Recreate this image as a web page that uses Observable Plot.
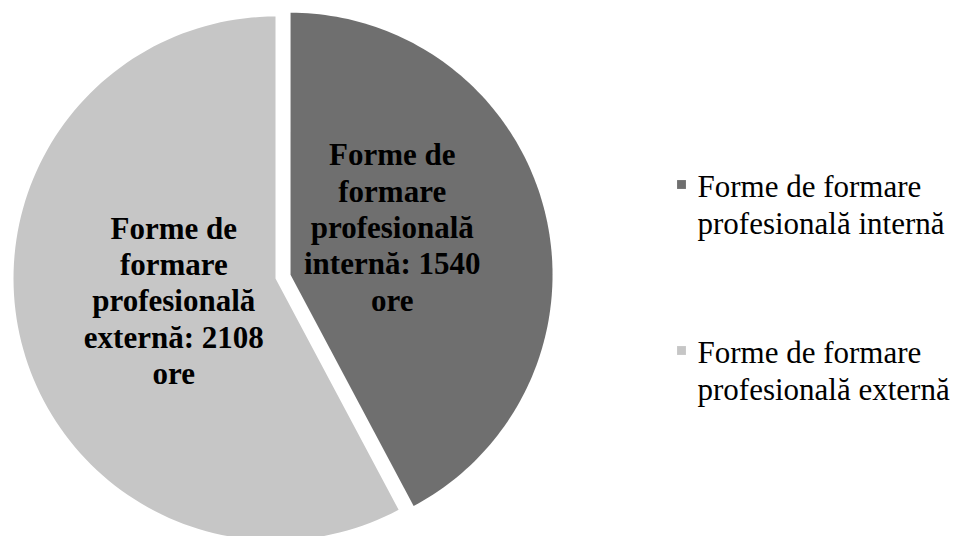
<!DOCTYPE html>
<html>
<head>
<meta charset="utf-8">
<script src="https://cdn.jsdelivr.net/npm/d3@7"></script>
<script src="https://cdn.jsdelivr.net/npm/@observablehq/plot@0.6"></script>
<style>
  html, body { margin: 0; padding: 0; background: #ffffff; }
  #chart svg { display: block; }
</style>
</head>
<body>
<div id="chart"></div>
<script>
// ---- data ----
const categories = ["Forme de formare profesională internă", "Forme de formare profesională externă"];
const values = [1540, 2108];
const sliceLabels = ["Forme de\nformare\nprofesională\ninternă: 1540\nore", "Forme de\nformare\nprofesională\nexternă: 2108\nore"];
const legendLabels = ["Forme de formare\nprofesională internă", "Forme de formare\nprofesională externă"];

// ---- layout / style ----
const W = 957, H = 536;
const cx = 275, cy = 278, R = 262;
const explode = [15.5, 0];
const colors = ["#6f6f6f", "#c6c6c6"];
const labelRadius = 0.4;
const labelShift = [-23, -4];
const legendX = 681, legendTextX = 697, legendTop = 203, legendGap = 166;
const serif = "Liberation Serif, Times New Roman, serif";

const arcs = d3.pie().sort(null).startAngle(0)(values);

const slicePts = [];
const labelRows = [];
arcs.forEach((a, i) => {
  const mid = (a.startAngle + a.endAngle) / 2;
  const ox = explode[i] * Math.sin(mid), oy = -explode[i] * Math.cos(mid);
  const ccx = cx + ox, ccy = cy + oy;
  slicePts.push({k: i, x: ccx, y: ccy});
  const n = 120;
  for (let j = 0; j <= n; j++) {
    const t = a.startAngle + (a.endAngle - a.startAngle) * j / n;
    slicePts.push({k: i, x: ccx + R * Math.sin(t), y: ccy - R * Math.cos(t)});
  }
  labelRows.push({
    k: i,
    x: ccx + labelRadius * R * Math.sin(mid),
    y: ccy - labelRadius * R * Math.cos(mid) + labelShift[i],
    text: sliceLabels[i]
  });
});

const legendRows = categories.map((c, i) => ({
  k: i,
  yText: legendTop + i * legendGap,
  yMark: legendTop + i * legendGap - 19,
  text: legendLabels[i]
}));

const chart = Plot.plot({
  width: W,
  height: H,
  margin: 0,
  style: {background: "#ffffff", overflow: "visible"},
  x: {domain: [0, W], range: [0, W], axis: null},
  y: {domain: [0, H], range: [0, H], axis: null},
  color: {domain: [0, 1], range: colors, type: "ordinal"},
  marks: [
    Plot.line(slicePts, {x: "x", y: "y", z: "k", fill: d => colors[d.k], stroke: "none", curve: "linear-closed"}),
    Plot.text(labelRows, {
      x: "x", y: "y", text: "text",
      fontFamily: serif, fontWeight: "bold", fontSize: 31, lineHeight: 1.17,
      fill: "#000000", textAnchor: "middle", lineAnchor: "middle"
    }),
    Plot.dot(legendRows, {x: () => legendX, y: "yMark", symbol: "square", r: 5, fill: d => colors[d.k], stroke: "none"}),
    Plot.text(legendRows, {
      x: () => legendTextX, y: "yText", text: "text",
      fontFamily: serif, fontSize: 31, lineHeight: 1.2,
      fill: "#000000", textAnchor: "start", lineAnchor: "middle"
    })
  ]
});
document.getElementById("chart").appendChild(chart);
</script>
</body>
</html>
